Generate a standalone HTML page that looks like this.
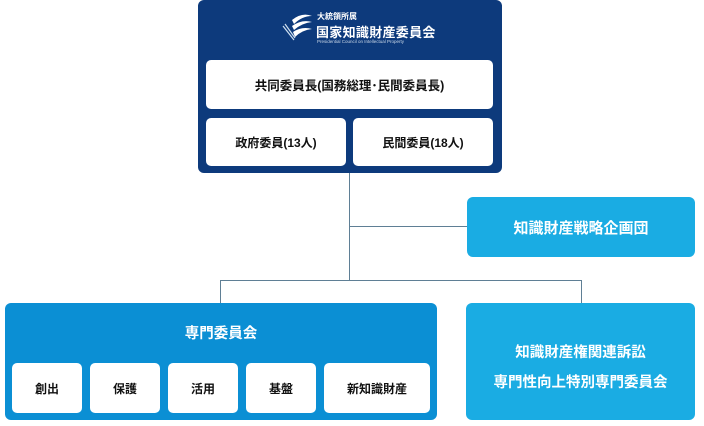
<!DOCTYPE html>
<html><head><meta charset="utf-8"><style>
*{margin:0;padding:0;box-sizing:border-box}
body{width:704px;height:426px;background:#fff;position:relative;overflow:hidden;font-family:"Liberation Sans","Noto Sans CJK JP",sans-serif;font-weight:bold}
.a{position:absolute}
.w{position:absolute;background:#fff;border-radius:5px;display:flex;align-items:center;justify-content:center;color:#111;font-size:12px}
.ln{position:absolute;background:#5f7f95}
</style></head><body>
<div class="a" style="left:198px;top:0;width:304px;height:173px;background:#0d3a7c;border-radius:6px"></div>
<svg class="a" style="left:280px;top:12px" width="34" height="32" viewBox="0 0 34 32">
<path d="M3 14 L14 28 M5 12 L15 26" stroke="#cfe0f0" stroke-width="1.2" fill="none"/>
<path d="M12 8 Q22 0 32 4 Q22 4 14 12 Z" fill="#fff"/>
<path d="M12 14 Q22 7 32 10 Q22 11 14 18 Z" fill="#fff"/>
<path d="M13 20 Q22 14 32 17 Q22 18 15 25 Z" fill="#fff"/>
</svg>
<div class="a" style="left:317px;top:11px;color:#fff;font-size:8px">大統領所属</div>
<div class="a" style="left:316px;top:22px;color:#fff;font-size:13px;letter-spacing:0.3px">国家知識財産委員会</div>
<div class="a" style="left:317px;top:39px;color:#c9d6e6;font-size:4.5px;font-weight:normal">Presidential Council on Intellectual Property</div>
<div class="w" style="left:206px;top:60px;width:287px;height:49px;font-size:12.5px">共同委員長(国務総理･民間委員長)</div>
<div class="w" style="left:206px;top:118px;width:140px;height:48px">政府委員(13人)</div>
<div class="w" style="left:353px;top:118px;width:140px;height:48px">民間委員(18人)</div>

<div class="ln" style="left:349px;top:173px;width:1px;height:107px"></div>
<div class="ln" style="left:349px;top:226px;width:118px;height:1px"></div>
<div class="ln" style="left:220px;top:280px;width:362px;height:1px"></div>
<div class="ln" style="left:220px;top:280px;width:1px;height:23px"></div>
<div class="ln" style="left:581px;top:280px;width:1px;height:23px"></div>

<div class="a" style="left:467px;top:197px;width:228px;height:60px;background:#1aace3;border-radius:6px;color:#fff;font-size:15px;display:flex;align-items:center;justify-content:center">知識財産戦略企画団</div>

<div class="a" style="left:5px;top:303px;width:432px;height:117px;background:#0b8fd4;border-radius:6px"></div>
<div class="a" style="left:5px;top:322px;width:432px;text-align:center;color:#fff;font-size:14.5px">専門委員会</div>
<div class="w" style="left:12px;top:363px;width:70px;height:50px">創出</div>
<div class="w" style="left:90px;top:363px;width:70px;height:50px">保護</div>
<div class="w" style="left:168px;top:363px;width:70px;height:50px">活用</div>
<div class="w" style="left:246px;top:363px;width:70px;height:50px">基盤</div>
<div class="w" style="left:324px;top:363px;width:106px;height:50px">新知識財産</div>

<div class="a" style="left:466px;top:303px;width:229px;height:117px;background:#1aace3;border-radius:6px"></div>
<div class="a" style="left:466px;top:338px;width:229px;text-align:center;color:#fff;font-size:14.5px;line-height:30px">知識財産権関連訴訟<br>専門性向上特別専門委員会</div>
</body></html>
